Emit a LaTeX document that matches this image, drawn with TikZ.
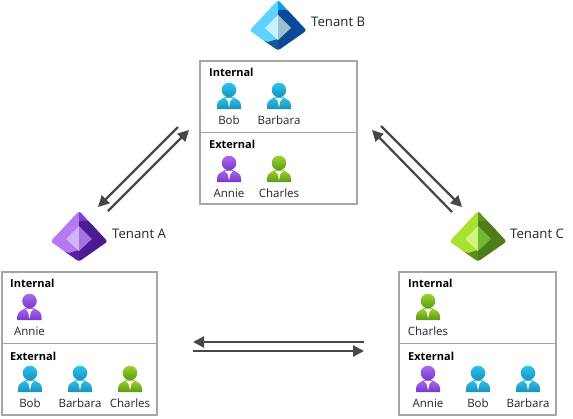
\documentclass[tikz,border=0pt]{standalone}
\usepackage{fontspec}
\setmainfont{Open Sans}
\usetikzlibrary{arrows.meta}
\definecolor{boxgray}{HTML}{A6A6A6}
\definecolor{arrowgray}{HTML}{474747}
\definecolor{txt}{HTML}{262626}
\definecolor{blueT}{HTML}{2BC5EF}\definecolor{blueB}{HTML}{1A91BA}
\definecolor{purpT}{HTML}{A96BEB}\definecolor{purpB}{HTML}{7A36CF}
\definecolor{greenT}{HTML}{9FD22C}\definecolor{greenB}{HTML}{5A9A14}
\definecolor{bA}{HTML}{5FD3FF}\definecolor{bB}{HTML}{0F9BE6}\definecolor{bC}{HTML}{0A4A98}\definecolor{bD}{HTML}{1F5496}\definecolor{bE}{HTML}{C9F1FF}\definecolor{bF}{HTML}{9CC3CB}
\definecolor{pA}{HTML}{B67AF0}\definecolor{pB}{HTML}{7A3DD0}\definecolor{pC}{HTML}{4A1B92}\definecolor{pD}{HTML}{55219C}\definecolor{pE}{HTML}{D2B4F6}\definecolor{pF}{HTML}{A274E2}
\definecolor{gA}{HTML}{A9E130}\definecolor{gB}{HTML}{5C9422}\definecolor{gC}{HTML}{4E7D1C}\definecolor{gD}{HTML}{5F8C20}\definecolor{gE}{HTML}{D2F284}\definecolor{gF}{HTML}{72B830}
\tikzset{
  panel/.style={draw=boxgray,line width=1.5pt,rectangle,anchor=north west,inner sep=0pt,outer sep=0pt,minimum width=#1,minimum height=71.5pt},
  person name/.style={text=txt,font=\fontsize{11.5pt}{13pt}\selectfont,anchor=base,inner sep=0pt},
  section title/.style={text=black,font=\fontsize{11pt}{13pt}\selectfont\bfseries,anchor=base west,inner sep=0pt},
  tenant title/.style={text=txt,font=\fontsize{13.2pt}{15pt}\selectfont,anchor=base west,inner sep=0pt},
  flow/.style={draw=arrowgray,line width=2.2pt,-{Triangle[length=11pt,width=11pt]}},
}
% name, x, head y, gradient top, gradient bottom, label
\newcommand{\personicon}[6]{%
  \begin{scope}[shift={(#2,#3)}]
    \shade[top color=#4,bottom color=#5]
      (-12,19) -- (-12,15.5) .. controls (-12,10.5) and (-8,9.5) .. (-4,7) -- (4,7) .. controls (8,9.5) and (12,10.5) .. (12,15.5) -- (12,19) -- cycle;
    \fill[white] (-4,8) -- (4,8) -- (1.3,11) -- (0,17.5) -- (-1.3,11) -- cycle;
    \shade[top color=#4,bottom color=#5] (0,0) circle[radius=7.3];
  \end{scope}%
  \node[person name] (#1) at (#2,#3+34) {#6};%
}
% x centre, y top, colour prefix
\newcommand{\tenanticon}[3]{%
  \begin{scope}[shift={(#1,#2)}]
    \begin{scope}
      \clip[rounded corners=2.5pt] (0,-1) -- (28.5,29.5) -- (0,49.5) -- (-28.5,29.5) -- cycle;
      \fill[#3A] (-30,-2) rectangle (30,51);
      \fill[#3B] (0,-2) rectangle (30,30);
      \fill[#3C] (0,9.5) .. controls (5,8) and (10,8.5) .. (13,12) -- (32,30) -- (0,52) -- cycle;
      \fill[#3D] (-30,34) -- (-10,41) -- (0,38) -- (0,52) -- (-30,52) -- cycle;
    \end{scope}
    \fill[#3E] (0,14) -- (-13,27) -- (0,39) -- cycle;
    \fill[#3F] (0,14) -- (13,27) -- (0,39) -- cycle;
  \end{scope}%
}
\begin{document}
\begin{tikzpicture}[x=1pt,y=-1pt]
\useasboundingbox[fill=white] (0,0) rectangle (573,418);
% Tenant icons and titles
\tenanticon{278}{1}{b}
\tenanticon{79}{212}{p}
\tenanticon{478}{212}{g}
\node[tenant title] (tb) at (311,26) {Tenant B};
\node[tenant title] (ta) at (112,238) {Tenant A};
\node[tenant title] (tc) at (510,238) {Tenant C};
% Panels
\node[panel=157pt] (bInt) at (200,61) {};
\node[panel=157pt] (bExt) at (200,132.5) {};
\node[panel=155pt] (aInt) at (2,272) {};
\node[panel=155pt] (aExt) at (2,343.5) {};
\node[panel=157pt] (cInt) at (399,272) {};
\node[panel=157pt] (cExt) at (399,343.5) {};
% Section titles
\node[section title] (bIntT) at (209,76.5) {Internal};
\node[section title] (bExtT) at (209,148.5) {External};
\node[section title] (aIntT) at (10,287.5) {Internal};
\node[section title] (aExtT) at (10,360) {External};
\node[section title] (cIntT) at (408,287.5) {Internal};
\node[section title] (cExtT) at (408,360) {External};
% People
\personicon{bBob}{229}{90}{blueT}{blueB}{Bob}
\personicon{bBarbara}{279}{90}{blueT}{blueB}{Barbara}
\personicon{bAnnie}{229}{163}{purpT}{purpB}{Annie}
\personicon{bCharles}{279}{163}{greenT}{greenB}{Charles}
\personicon{aAnnie}{29.5}{301}{purpT}{purpB}{Annie}
\personicon{aBob}{30}{373}{blueT}{blueB}{Bob}
\personicon{aBarbara}{80}{373}{blueT}{blueB}{Barbara}
\personicon{aCharles}{130}{373}{greenT}{greenB}{Charles}
\personicon{cCharles}{428}{301}{greenT}{greenB}{Charles}
\personicon{cAnnie}{428}{373}{purpT}{purpB}{Annie}
\personicon{cBob}{478}{373}{blueT}{blueB}{Bob}
\personicon{cBarbara}{528}{373}{blueT}{blueB}{Barbara}
% Connector ends
\coordinate (ab1) at (178,127);
\coordinate (ab2) at (98,207);
\coordinate (ab3) at (108,211);
\coordinate (ab4) at (189,130);
\coordinate (bc1) at (381,126);
\coordinate (bc2) at (462,207);
\coordinate (bc3) at (452,212);
\coordinate (bc4) at (372,130);
\coordinate (ca1) at (364,342);
\coordinate (ca2) at (193,342);
\coordinate (ca3) at (193,351);
\coordinate (ca4) at (364,351);
\draw[flow] (ab1) -- (ab2);
\draw[flow] (ab3) -- (ab4);
\draw[flow] (bc1) -- (bc2);
\draw[flow] (bc3) -- (bc4);
\draw[flow] (ca1) -- (ca2);
\draw[flow] (ca3) -- (ca4);
\end{tikzpicture}
\end{document}
